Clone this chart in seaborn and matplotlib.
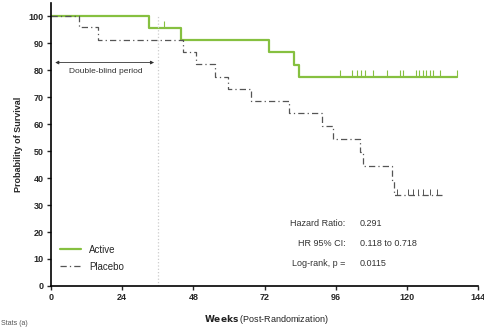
import pandas as pd
import numpy as np
import matplotlib
matplotlib.use("Agg")
import matplotlib.pyplot as plt
import seaborn as sns

# datos de las curvas
active_t = [0, 33, 44, 73.5, 82, 83.6, 137]
active_s = [100, 95.5, 91, 86.7, 82, 77.5, 77.5]
active_cens_t = [38, 97.5, 101.6, 103.1, 104.6, 105.9, 108.7, 113.4, 117.7, 118.6,
                 123.1, 124.2, 125.4, 126.5, 127.6, 128.9, 131.0, 136.8]
active_cens_s = [95.5] + [77.5] * 17

placebo_t = [0, 9.4, 16, 44.5, 48.8, 55.3, 59.6, 67.5, 80.4, 91.3, 95.1, 104, 105.3,
             114.8, 115.5, 132.2]
placebo_s = [100, 95.8, 91, 86.8, 82.1, 77.5, 73, 68.5, 64, 59.3, 54.3, 49.5, 44.6,
             39.3, 33.8, 33.8]
placebo_cens_t = [116.6, 120.4, 122.1, 123.8, 125.5, 127.8, 130.1]
placebo_cens_s = [33.8] * 7

x_ticks = [0, 24, 48, 72, 96, 120, 144]
y_ticks = list(range(0, 101, 10))
blind_end = 36
stats_labels = ["Hazard Ratio:", "HR 95% CI:", "Log-rank, p ="]
stats_values = ["0.291", "0.118 to 0.718", "0.0115"]

green = "#86c040"
gray = "#555555"

sns.set_style("white")
plt.rcParams['font.family'] = ['Liberation Sans', 'DejaVu Sans']

fig = plt.figure(figsize=(4.85, 3.31), dpi=100)
ax = fig.add_axes([0.105, 0.136, 0.881, 0.856])

df_a = pd.DataFrame({"t": active_t, "s": active_s})
df_p = pd.DataFrame({"t": placebo_t, "s": placebo_s})

sns.lineplot(data=df_a, x="t", y="s", drawstyle="steps-post", color=green, lw=1.6,
             ax=ax, label="Active", estimator=None)
sns.lineplot(data=df_p, x="t", y="s", drawstyle="steps-post", color=gray, lw=0.9,
             dashes=False, ax=ax, label="Placebo", estimator=None)
ax.lines[-1].set_linestyle((0, (5, 2.5, 1, 2.5)))

# marcas de censura (hacia arriba)
sns.scatterplot(x=active_cens_t, y=active_cens_s, marker=2, s=25, color=green,
                linewidth=0.8, ax=ax, legend=False)
sns.scatterplot(x=placebo_cens_t, y=placebo_cens_s, marker=2, s=18, color=gray,
                linewidth=0.7, ax=ax, legend=False)

# periodo doble ciego
ax.axvline(blind_end, color="#cccccc", lw=0.9, ls=":", ymax=100 / 105)
ax.annotate("", xy=(0.5, 82.8), xytext=(blind_end - 0.3, 82.8),
            arrowprops=dict(arrowstyle="<|-|>", color="#333333", lw=0.6,
                            mutation_scale=5))
ax.text(18.5, 79.5, "Double-blind period", ha="center", va="center",
        fontsize=6, color="#333333")

# estadísticos
for i, (lab, val) in enumerate(zip(stats_labels, stats_values)):
    y = 23.3 - i * 7.4
    ax.text(99.2, y, lab, ha="right", va="center", fontsize=6.5, color="#333333")
    ax.text(104, y, val, ha="left", va="center", fontsize=6.5, color="#333333")

ax.set_xlim(0, 144)
ax.set_ylim(0, 105)
ax.set_xticks(x_ticks)
ax.set_yticks(y_ticks)
ax.tick_params(axis="both", length=3, width=1, direction="out", labelsize=6.5,
               bottom=True, left=True, pad=2)
for lab in ax.get_xticklabels() + ax.get_yticklabels():
    lab.set_fontweight("bold")
for sp in ["top", "right"]:
    ax.spines[sp].set_visible(False)
for sp in ["left", "bottom"]:
    ax.spines[sp].set_linewidth(1.2)
    ax.spines[sp].set_color("black")

ax.set_xlabel("")
ax.set_ylabel("Probability of Survival", fontsize=6.5, fontweight="bold", labelpad=4)
ax.text(72.5, -12.5, r"$\bf{Weeks}$ (Post-Randomization)", ha="center", va="center",
        fontsize=6.5, color="#222222")

leg = ax.legend(loc="lower left", bbox_to_anchor=(0.0, 0.02), frameon=False,
                fontsize=7, handlelength=2.2, labelspacing=0.7)

fig.text(0.003, 0.012, "Stats (a)", fontsize=5, color="#555555", va="bottom")

fig.savefig("out.png", dpi=100)
